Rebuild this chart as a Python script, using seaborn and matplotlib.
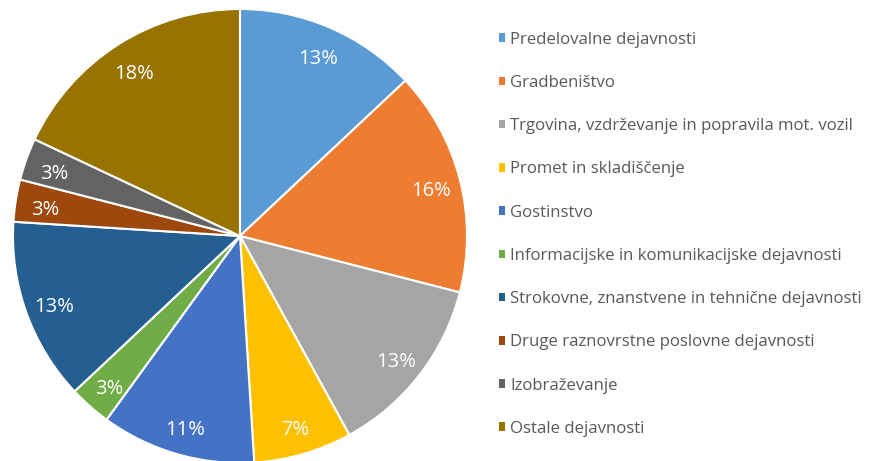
import matplotlib
matplotlib.use("Agg")
import matplotlib.pyplot as plt
from matplotlib.patches import Patch
import seaborn as sns

sectors = [
    "Predelovalne dejavnosti",
    "Gradbeništvo",
    "Trgovina, vzdrževanje in popravila mot. vozil",
    "Promet in skladiščenje",
    "Gostinstvo",
    "Informacijske in komunikacijske dejavnosti",
    "Strokovne, znanstvene in tehnične dejavnosti",
    "Druge raznovrstne poslovne dejavnosti",
    "Izobraževanje",
    "Ostale dejavnosti",
]
shares = [13, 16, 13, 7, 11, 3, 13, 3, 3, 18]
hex_colors = ["#5B9BD5", "#ED7D31", "#A5A5A5", "#FFC000", "#4472C4",
              "#70AD47", "#255E91", "#9E480E", "#636363", "#997300"]

sns.set_theme(style="white")
plt.rcParams['font.family'] = ['Open Sans', 'DejaVu Sans']
pal = sns.color_palette(hex_colors)

fig = plt.figure(figsize=(8.69, 4.61), dpi=100)
ax = fig.add_axes([13 / 869, -2 / 461, 454 / 869, 454 / 461])
wedges, texts, autotexts = ax.pie(
    shares, colors=pal, startangle=90, counterclock=False,
    autopct="%d%%", pctdistance=0.87,
    wedgeprops=dict(edgecolor="white", linewidth=1.5),
    textprops=dict(color="white", fontsize=14.5),
)
# Excel sets the labels a touch lower than the slice mid-angle
for t in autotexts:
    x, y = t.get_position()
    t.set_position((x, y - 0.02))

ax.set_xlim(-1, 1)
ax.set_ylim(-1, 1)
ax.set_aspect("equal")
ax.axis("off")

handles = [Patch(facecolor=c, edgecolor="none") for c in pal]
fig.legend(handles, sectors, loc="upper left",
           bbox_to_anchor=(492 / 869, 1 - 25 / 461),
           frameon=False, fontsize=12.1, labelcolor="#595959",
           handlelength=0.4, handleheight=0.4, handletextpad=0.3,
           labelspacing=1.62, borderaxespad=0)

fig.savefig("out.png", dpi=100, facecolor="white")
